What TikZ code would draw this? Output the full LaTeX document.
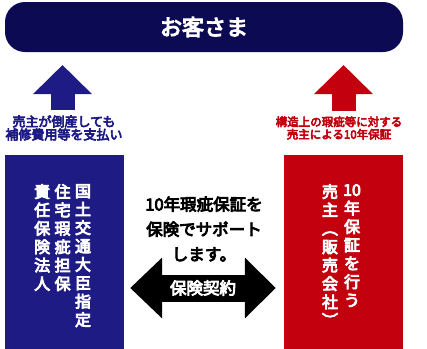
\documentclass[tikz,border=0pt]{standalone}
\usepackage{fontspec}
\newfontfamily\jp[AutoFakeBold=5]{Noto Sans CJK JP}
\usetikzlibrary{arrows.meta,positioning}
\definecolor{navybar}{HTML}{0C0A52}
\definecolor{hokenblue}{HTML}{1E1C84}
\definecolor{urired}{HTML}{C2000E}
\begin{document}
\begin{tikzpicture}[x=1pt, y=-1pt,
	box/.style={minimum width=119pt, minimum height=194pt, inner sep=0pt},
	vcol/.style={align=center, inner sep=0pt, text=white, anchor=north, font={\jp\bfseries\fontsize{16}{18.4}\selectfont}},
	caption/.style={align=center, inner sep=0pt, font={\jp\bfseries\fontsize{11.5}{12.5}\selectfont}},
	uparrow/.style={line width=24pt, -{Triangle[width=57pt,length=29pt]}}]
	\useasboundingbox (0,0) rectangle (427,348);

	% customer bar
	\node[fill=navybar, rounded corners=20pt, minimum width=398pt, minimum height=50pt, inner sep=0pt,
		text=white, font={\jp\bfseries\fontsize{22}{24}\selectfont}] (kyaku) at (204,27) {お客さま};

	% boxes
	\node[box, fill=hokenblue] (hokenhojin) at (64.5,252) {};
	\node[box, fill=urired] (urinushi) at (343.5,252) {};

	% vertical texts
	\node[vcol] (col1) at (83,184) {国\\土\\交\\通\\大\\臣\\指\\定};
	\node[vcol, left=4pt of col1.north west, anchor=north east] (col2) {住\\宅\\瑕\\疵\\担\\保};
	\node[vcol, left=4pt of col2.north west, anchor=north east] (col3) {責\\任\\保\\険\\法\\人};
	\node[vcol] (col4) at (352,184) {10\\年\\保\\証\\を\\行\\う};
	\node[vcol] (col5) at (330,184) {売\\主\\︵\\販\\売\\会\\社\\︶};

	% captions and arrows
	\node[caption, text=hokenblue, font={\jp\bfseries\fontsize{13}{13}\selectfont}] (capL) at (64,128) {売主が倒産しても\\補修費用等を支払い};
	\node[caption, text=urired] (capR) at (339,128) {構造上の瑕疵等に対する\\売主による10年保証};
	\coordinate (tipL) at (62.5,65);
	\coordinate (tipR) at (343.5,65);
	\draw[uparrow, hokenblue] ([yshift=5pt]capL.north -| tipL) -- (tipL);
	\draw[uparrow, urired] ([yshift=5pt]capR.north -| tipR) -- (tipR);

	% center
	\node[caption, font={\jp\bfseries\fontsize{16.5}{25}\selectfont}] (hokenmsg) at (204,229) {10年瑕疵保証を\\保険でサポート\\します。};
	\coordinate (endL) at ([xshift=6pt]hokenhojin.east |- 0,288);
	\coordinate (endR) at ([xshift=-8pt]urinushi.west |- 0,288);
	\draw[line width=27pt, {Triangle[width=59pt,length=32pt]}-{Triangle[width=59pt,length=31pt]}]
		(endL) -- (endR) node[midway, inner sep=0pt, text=white, font={\jp\bfseries\fontsize{16.5}{18}\selectfont}] (keiyaku) {保険契約};
\end{tikzpicture}
\end{document}
